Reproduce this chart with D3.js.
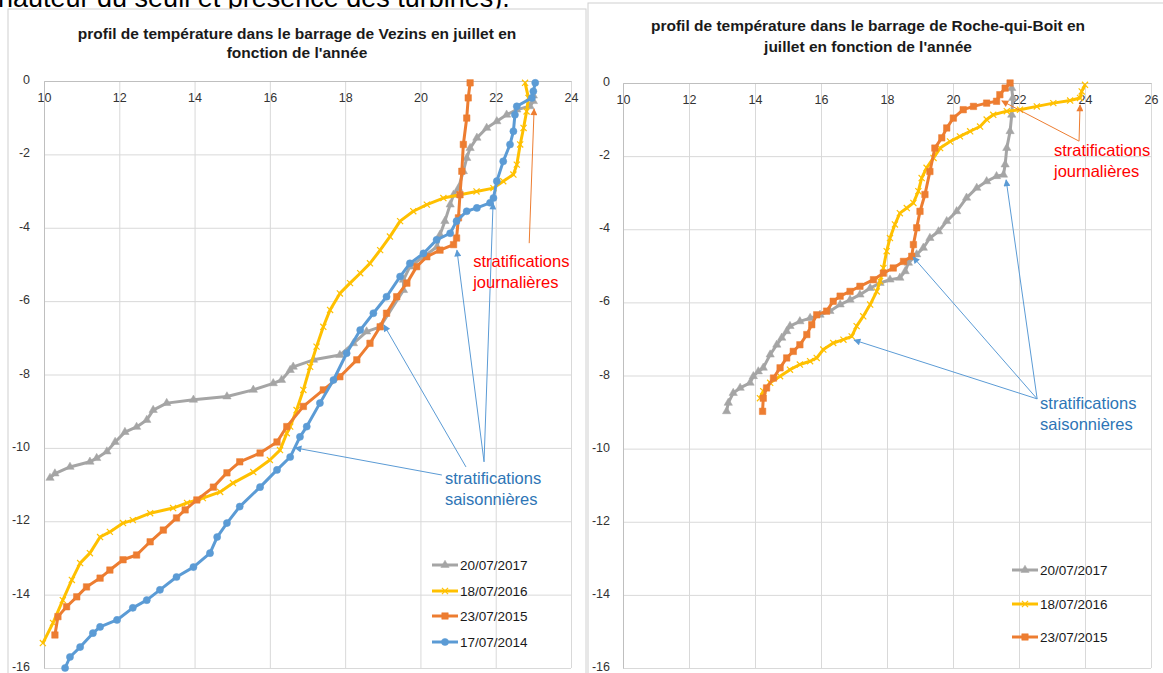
<!DOCTYPE html>
<html>
<head>
<meta charset="utf-8">
<script src="https://cdn.jsdelivr.net/npm/d3@7"></script>
<style>
  body { margin: 0; background: #fff; }
  svg { display: block; font-family: "Liberation Sans", Arial, sans-serif; }
</style>
</head>
<body>
<svg id="page" width="1163" height="673"></svg>
<script>
// ---- data (temperature °C, depth m) ----
const legendVezins = ["20/07/2017", "18/07/2016", "23/07/2015", "17/07/2014"];
const legendRoche = ["20/07/2017", "18/07/2016", "23/07/2015"];

const xTicksVezins = [10, 12, 14, 16, 18, 20, 22, 24];
const xTicksRoche = [10, 12, 14, 16, 18, 20, 22, 24, 26];
const yTicks = [0, -2, -4, -6, -8, -10, -12, -14, -16];

const vezins2017 = [[10.16,-10.82],[10.29,-10.7],[10.69,-10.52],[11.22,-10.38],[11.4,-10.28],[11.67,-10.1],[11.89,-9.84],[12.15,-9.57],[12.46,-9.43],[12.73,-9.24],[12.9,-8.97],[13.26,-8.78],[13.97,-8.69],[14.86,-8.6],[15.56,-8.42],[16.09,-8.24],[16.31,-8.15],[16.54,-7.88],[16.62,-7.79],[17.16,-7.6],[17.86,-7.47],[18.22,-7.15],[18.57,-6.83],[18.93,-6.7],[19.55,-5.7],[19.55,-5.42],[19.72,-5.06],[20.07,-4.8],[20.44,-4.52],[20.52,-4.19],[20.65,-3.82],[20.79,-3.37],[20.88,-3.1],[21.01,-2.92],[21.14,-2.46],[21.23,-2.1],[21.32,-1.83],[21.5,-1.55],[21.76,-1.28],[22.03,-1.1],[22.29,-0.92],[22.56,-0.78],[22.91,-0.69],[23.0,-0.55],[23.0,-0.4]];
const vezins2016 = [[9.97,-15.32],[10.24,-14.77],[10.5,-14.15],[10.74,-13.6],[10.96,-13.14],[11.22,-12.87],[11.49,-12.43],[11.75,-12.29],[12.1,-12.05],[12.36,-11.97],[12.82,-11.78],[13.43,-11.64],[13.8,-11.5],[14.22,-11.37],[14.68,-11.2],[15.02,-10.96],[15.56,-10.66],[16.0,-10.33],[16.27,-10.06],[16.45,-9.6],[16.54,-9.42],[16.71,-8.97],[16.89,-8.42],[17.07,-7.79],[17.24,-7.24],[17.42,-6.7],[17.6,-6.24],[17.86,-5.79],[18.13,-5.51],[18.4,-5.24],[18.66,-4.97],[18.93,-4.61],[19.19,-4.24],[19.46,-3.82],[19.81,-3.55],[20.17,-3.37],[20.61,-3.19],[21.05,-3.1],[21.49,-3.01],[21.94,-2.92],[22.2,-2.73],[22.47,-2.55],[22.56,-2.28],[22.65,-1.73],[22.74,-1.28],[22.82,-0.83],[22.87,-0.46],[22.78,-0.05]];
const vezins2015 = [[10.29,-15.1],[10.37,-14.6],[10.6,-14.33],[10.87,-14.06],[11.13,-13.79],[11.49,-13.55],[11.75,-13.33],[12.1,-13.05],[12.46,-12.92],[12.82,-12.56],[13.17,-12.24],[13.52,-11.91],[13.75,-11.69],[14.06,-11.42],[14.5,-11.07],[14.86,-10.68],[15.2,-10.38],[15.74,-10.14],[16.19,-9.84],[16.45,-9.42],[16.89,-8.87],[17.42,-8.42],[17.86,-8.06],[18.31,-7.6],[18.66,-7.15],[18.93,-6.7],[19.1,-6.33],[19.37,-5.88],[19.64,-5.51],[19.9,-5.06],[20.17,-4.79],[20.52,-4.61],[20.88,-4.46],[20.96,-4.28],[21.01,-3.73],[21.05,-3.1],[21.1,-2.46],[21.14,-1.73],[21.23,-1.01],[21.27,-0.46],[21.32,-0.05]];
const vezins2014 = [[10.56,-16.0],[10.69,-15.7],[10.96,-15.43],[11.3,-15.05],[11.49,-14.88],[11.94,-14.69],[12.36,-14.36],[12.73,-14.15],[13.08,-13.87],[13.52,-13.52],[13.97,-13.25],[14.41,-12.87],[14.6,-12.43],[14.86,-12.05],[15.2,-11.6],[15.74,-11.07],[16.19,-10.6],[16.54,-10.25],[16.8,-9.7],[16.98,-9.42],[17.33,-8.78],[17.69,-8.15],[18.04,-7.42],[18.4,-6.79],[18.75,-6.33],[19.1,-5.88],[19.46,-5.33],[19.72,-4.97],[20.08,-4.7],[20.43,-4.33],[20.79,-4.15],[20.96,-3.82],[21.23,-3.55],[21.5,-3.46],[21.85,-3.32],[21.94,-3.19],[22.03,-2.73],[22.2,-2.19],[22.38,-1.73],[22.47,-1.37],[22.51,-0.92],[22.56,-0.69],[22.96,-0.46],[23.0,-0.28],[23.05,-0.05]];

const roche2017 = [[13.14,-8.98],[13.19,-8.75],[13.34,-8.48],[13.55,-8.34],[13.85,-8.2],[13.95,-8.02],[14.1,-7.89],[14.25,-7.79],[14.46,-7.43],[14.66,-7.16],[14.81,-6.97],[14.96,-6.79],[15.06,-6.65],[15.36,-6.52],[15.67,-6.43],[15.97,-6.34],[16.27,-6.24],[16.58,-6.06],[16.88,-5.93],[17.18,-5.79],[17.49,-5.61],[17.79,-5.47],[18.09,-5.38],[18.39,-5.33],[18.55,-5.15],[18.65,-4.92],[18.9,-4.69],[19.1,-4.51],[19.3,-4.24],[19.56,-4.06],[19.81,-3.78],[20.11,-3.51],[20.41,-3.14],[20.72,-2.87],[21.02,-2.69],[21.32,-2.55],[21.53,-2.51],[21.58,-2.23],[21.63,-1.78],[21.73,-1.32],[21.78,-0.87],[21.81,-0.41],[21.78,-0.14]];
const roche2016 = [[14.15,-8.62],[14.25,-8.43],[14.46,-8.2],[14.76,-8.02],[15.06,-7.84],[15.36,-7.7],[15.67,-7.61],[15.87,-7.52],[16.07,-7.29],[16.37,-7.11],[16.68,-7.02],[16.93,-6.93],[17.08,-6.65],[17.28,-6.38],[17.49,-6.06],[17.69,-5.7],[17.79,-5.42],[17.89,-5.06],[17.99,-4.6],[18.09,-4.24],[18.24,-3.87],[18.39,-3.56],[18.6,-3.42],[18.8,-3.28],[18.95,-2.96],[19.05,-2.6],[19.2,-2.32],[19.41,-2.05],[19.61,-1.78],[19.91,-1.6],[20.21,-1.46],[20.52,-1.32],[20.82,-1.19],[21.02,-1.0],[21.22,-0.87],[21.63,-0.77],[22.03,-0.73],[22.54,-0.64],[23.04,-0.55],[23.55,-0.48],[23.85,-0.41],[23.9,-0.23],[24.0,-0.05]];
const roche2015 = [[14.23,-8.98],[14.25,-8.62],[14.35,-8.34],[14.56,-8.07],[14.76,-7.79],[14.96,-7.52],[15.16,-7.34],[15.36,-7.16],[15.57,-6.88],[15.72,-6.61],[15.87,-6.34],[16.17,-6.24],[16.37,-5.97],[16.58,-5.83],[16.88,-5.7],[17.18,-5.56],[17.59,-5.38],[17.89,-5.2],[18.19,-5.06],[18.5,-4.88],[18.75,-4.74],[18.8,-4.42],[18.9,-3.96],[19.0,-3.51],[19.15,-3.05],[19.3,-2.42],[19.45,-1.78],[19.66,-1.5],[19.81,-1.23],[20.01,-0.96],[20.31,-0.73],[20.62,-0.64],[21.02,-0.55],[21.32,-0.5],[21.42,-0.32],[21.58,-0.14],[21.73,0.0]];

// annotation anchors, in data units
const vezinsDailyText = [21.4, -4.9];
const vezinsDailyArrows = [[[22.89, -4.42], [23.02, -0.76]]];
const vezinsSeasonText = [20.65, -10.82];
const vezinsSeasonArrows = [
  [[20.57, -10.74], [16.67, -10.0]],
  [[21.21, -10.52], [19.03, -6.65]],
  [[21.69, -10.38], [20.97, -4.61]],
  [[21.69, -10.38], [21.93, -3.33]]
];
const rocheDailyText = [23.06, -1.83];
const rocheDailyArrows = [
  [[23.82, -1.59], [21.48, -0.49]],
  [[23.82, -1.59], [23.85, -0.6]]
];
const rocheSeasonText = [22.64, -8.75];
const rocheSeasonArrows = [
  [[22.55, -8.64], [17.0, -7.03]],
  [[22.55, -8.64], [18.79, -4.76]],
  [[22.55, -8.64], [21.61, -2.65]]
];

// ---- styles ----
const styles = {
  "20/07/2017": { color: "#A5A5A5", symbol: d3.symbolTriangle, size: 30, fill: true },
  "18/07/2016": { color: "#FFC000", symbol: d3.symbolX, size: 26, fill: false },
  "23/07/2015": { color: "#ED7D31", symbol: d3.symbolSquare, size: 42, fill: true },
  "17/07/2014": { color: "#5B9BD5", symbol: d3.symbolCircle, size: 40, fill: true }
};

const svg = d3.select("#page");

// arrow heads
const defs = svg.append("defs");
[["arrBlue", "#5B9BD5"], ["arrOrange", "#ED7D31"]].forEach(([id, c]) => {
  defs.append("marker")
    .attr("id", id)
    .attr("viewBox", "0 0 10 10")
    .attr("refX", 9).attr("refY", 5)
    .attr("markerWidth", 9).attr("markerHeight", 7)
    .attr("markerUnits", "userSpaceOnUse")
    .attr("orient", "auto")
    .append("path")
    .attr("d", "M0,0 L10,5 L0,10 z")
    .attr("fill", c);
});

// text line above the charts, cut by the page edge as in the source
svg.append("text")
  .attr("x", -2)
  .attr("y", 7)
  .style("font-size", "27px")
  .style("fill", "#000")
  .text("hauteur du seuil et présence des turbines).");

function drawChart(cfg) {
  const g = svg.append("g");

  // chart frame
  g.append("rect")
    .attr("x", cfg.frame[0]).attr("y", cfg.frame[1])
    .attr("width", cfg.frame[2]).attr("height", cfg.frame[3])
    .attr("fill", "#fff")
    .attr("stroke", "#D0D0D0");

  const x = d3.scaleLinear().domain(cfg.xDomain).range(cfg.xRange);
  const y = d3.scaleLinear().domain([0, -16]).range(cfg.yRange);

  // grid lines
  g.append("g")
    .attr("transform", "translate(0," + cfg.yRange[1] + ")")
    .call(d3.axisBottom(x).tickValues(cfg.xTicks).tickSize(-(cfg.yRange[1] - cfg.yRange[0])).tickFormat(""))
    .call(a => a.select(".domain").remove())
    .selectAll("line").attr("stroke", "#D9D9D9");
  g.append("g")
    .attr("transform", "translate(" + cfg.xRange[1] + ",0)")
    .call(d3.axisLeft(y).tickValues(yTicks).tickSize(cfg.xRange[1] - cfg.xRange[0]).tickFormat(""))
    .call(a => a.select(".domain").remove())
    .selectAll("line").attr("stroke", "#D9D9D9");

  // axis at depth 0 (labels below) and at 10 °C
  const xAxis = g.append("g")
    .attr("transform", "translate(0," + y(0) + ")")
    .call(d3.axisBottom(x).tickValues(cfg.xTicks).tickSize(0).tickPadding(12).tickFormat(d => String(d)));
  xAxis.select(".domain").attr("stroke", "#BFBFBF");
  xAxis.selectAll("text").style("font-size", "12.5px").attr("fill", "#333");

  const yAxis = g.append("g")
    .attr("transform", "translate(" + x(10) + ",0)")
    .call(d3.axisLeft(y).tickValues(yTicks).tickSize(0).tickPadding(cfg.yPad).tickFormat(d => String(d)));
  yAxis.select(".domain").attr("stroke", "#BFBFBF");
  yAxis.selectAll("text").style("font-size", "12.5px").attr("fill", "#333").attr("dy", "0.2em");

  // title
  cfg.title.forEach((t, i) => {
    g.append("text")
      .attr("x", cfg.titleX)
      .attr("y", cfg.titleY[i])
      .attr("text-anchor", "middle")
      .attr("dominant-baseline", "central")
      .style("font-size", "15.5px")
      .style("font-weight", "bold")
      .style("fill", "#1a1a1a")
      .text(t);
  });

  // series lines + markers
  const line = d3.line().x(d => x(d[0])).y(d => y(d[1]));
  cfg.series.forEach(s => {
    const st = styles[s.name];
    const sg = g.append("g");
    sg.append("path")
      .attr("d", line(s.values))
      .attr("fill", "none")
      .attr("stroke", st.color)
      .attr("stroke-width", 3)
      .attr("stroke-linejoin", "round");
    sg.selectAll("path.mk")
      .data(s.values)
      .enter().append("path")
      .attr("class", "mk")
      .attr("transform", d => "translate(" + x(d[0]) + "," + y(d[1]) + ")")
      .attr("d", d3.symbol(st.symbol, st.size))
      .attr("fill", st.fill ? st.color : "none")
      .attr("stroke", st.color)
      .attr("stroke-width", st.fill ? 0.5 : 1.2);
  });

  // legend
  cfg.series.forEach((s, i) => {
    const st = styles[s.name];
    const ly = cfg.legendY[i];
    g.append("line")
      .attr("x1", cfg.legendX).attr("x2", cfg.legendX + 26)
      .attr("y1", ly).attr("y2", ly)
      .attr("stroke", st.color).attr("stroke-width", 3);
    g.append("path")
      .attr("transform", "translate(" + (cfg.legendX + 13) + "," + ly + ")")
      .attr("d", d3.symbol(st.symbol, st.size))
      .attr("fill", st.fill ? st.color : "none")
      .attr("stroke", st.color)
      .attr("stroke-width", st.fill ? 0.5 : 1.2);
    g.append("text")
      .attr("x", cfg.legendX + 28)
      .attr("y", ly)
      .attr("dominant-baseline", "central")
      .style("font-size", "13.5px")
      .style("fill", "#1a1a1a")
      .text(s.name);
  });

  // annotations
  function arrows(list, color, marker) {
    list.forEach(a => {
      g.append("line")
        .attr("x1", x(a[0][0])).attr("y1", y(a[0][1]))
        .attr("x2", x(a[1][0])).attr("y2", y(a[1][1]))
        .attr("stroke", color).attr("stroke-width", 1)
        .attr("marker-end", "url(#" + marker + ")");
    });
  }
  function label(pos, lines, color) {
    lines.forEach((t, i) => {
      g.append("text")
        .attr("x", x(pos[0]))
        .attr("y", y(pos[1]) + i * 21)
        .attr("dominant-baseline", "central")
        .style("font-size", "16.5px")
        .style("fill", color)
        .text(t);
    });
  }
  arrows(cfg.dailyArrows, "#ED7D31", "arrOrange");
  arrows(cfg.seasonArrows, "#5B9BD5", "arrBlue");
  label(cfg.dailyText, ["stratifications", "journalières"], "#FF0000");
  label(cfg.seasonText, ["stratifications", "saisonnières"], "#2E75B6");
}

drawChart({
  frame: [8, 9, 578, 700],
  xDomain: [10, 24], xRange: [44, 571], yRange: [81, 668],
  xTicks: xTicksVezins, yPad: 14,
  title: ["profil de température dans le barrage de Vezins en juillet en", "fonction de l'année"],
  titleX: 297, titleY: [33, 52],
  series: [
    { name: legendVezins[0], values: vezins2017 },
    { name: legendVezins[1], values: vezins2016 },
    { name: legendVezins[2], values: vezins2015 },
    { name: legendVezins[3], values: vezins2014 }
  ],
  legendX: 432, legendY: [565, 591, 616, 642],
  dailyText: vezinsDailyText, dailyArrows: vezinsDailyArrows,
  seasonText: vezinsSeasonText, seasonArrows: vezinsSeasonArrows
});

drawChart({
  frame: [588, 3, 600, 710],
  xDomain: [10, 26], xRange: [623, 1151], yRange: [83, 668],
  xTicks: xTicksRoche, yPad: 13,
  title: ["profil de température dans le barrage de Roche-qui-Boit en", "juillet en fonction de l'année"],
  titleX: 868, titleY: [25, 46],
  series: [
    { name: legendRoche[0], values: roche2017 },
    { name: legendRoche[1], values: roche2016 },
    { name: legendRoche[2], values: roche2015 }
  ],
  legendX: 1012, legendY: [570, 604, 637],
  dailyText: rocheDailyText, dailyArrows: rocheDailyArrows,
  seasonText: rocheSeasonText, seasonArrows: rocheSeasonArrows
});
</script>
</body>
</html>
